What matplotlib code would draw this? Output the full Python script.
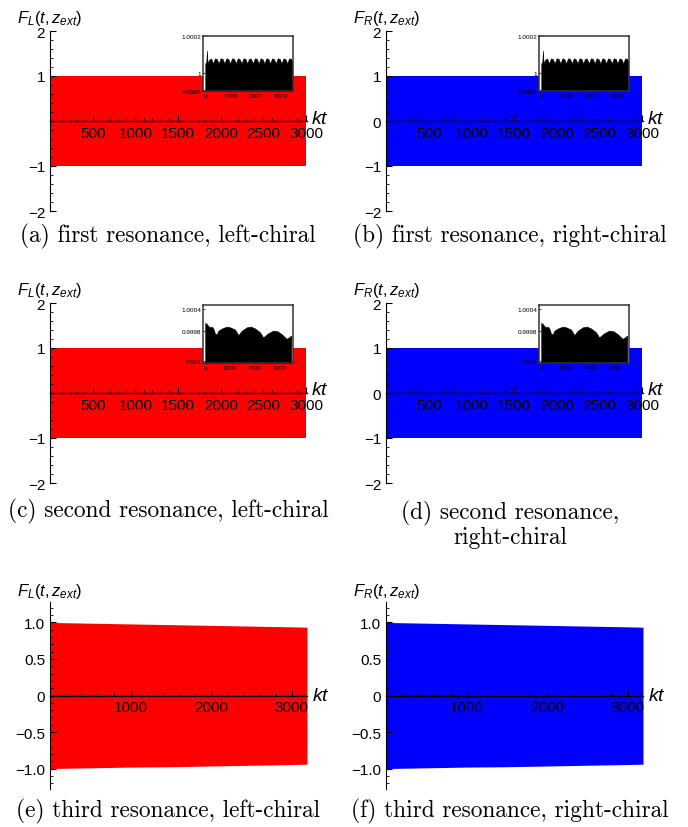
import numpy as np
import matplotlib
matplotlib.use("Agg")
import matplotlib.pyplot as plt
from matplotlib.ticker import FixedLocator, MultipleLocator

plt.rcParams["font.family"] = "Liberation Sans"
plt.rcParams["mathtext.fontset"] = "custom"
plt.rcParams["mathtext.rm"] = "Liberation Sans"
plt.rcParams["mathtext.it"] = "Liberation Sans:italic"

# ── Data ─────────────────────────────────────────────────────────
# first / second resonance: fast oscillation filling [-1, 1]
t_band = [0, 3000]
band_hi = [1.0, 1.0]
band_lo = [-1.0, -1.0]

# third resonance: slowly decaying envelope
t_third = [0, 500, 1000, 1500, 2000, 2500, 3000, 3190]
third_hi = [1.0, 0.99, 0.98, 0.97, 0.96, 0.95, 0.94, 0.935]
third_lo = [-1.0, -0.99, -0.98, -0.975, -0.965, -0.955, -0.945, -0.94]

# inset, first resonance: upper envelope near 1
ins1_t = [0, 40, 65, 90, 150, 230, 300, 380, 450, 530, 600, 680, 750, 830,
          900, 980, 1050, 1130, 1200, 1280, 1350, 1430, 1500, 1580, 1650,
          1730, 1800, 1880, 1950, 2030, 2100, 2180, 2250, 2330, 2400, 2480,
          2550, 2630, 2700, 2780, 2850, 2930, 3000, 3080, 3150, 3230, 3300,
          3380, 3430]
ins1_top = [1.00005, 1.00006, 1.00012, 1.00005, 1.00007, 1.000078, 1.00005,
            1.000078, 1.000075, 1.00005, 1.000078, 1.000076, 1.00005,
            1.000078, 1.000075, 1.00005, 1.000078, 1.000076, 1.00005,
            1.000078, 1.000075, 1.00005, 1.000078, 1.000076, 1.00005,
            1.000078, 1.000075, 1.00005, 1.000078, 1.000076, 1.00005,
            1.000078, 1.000075, 1.00005, 1.000078, 1.000076, 1.00005,
            1.000078, 1.000075, 1.00005, 1.000078, 1.000076, 1.00005,
            1.000078, 1.000075, 1.00005, 1.000078, 1.000076, 1.00006]

# inset, second resonance: upper envelope near 1
ins2_t = [0, 60, 130, 200, 270, 330, 400, 470, 530, 670, 870, 1000, 1200,
          1330, 1470, 1670, 1830, 2000, 2200, 2330, 2530, 2730, 2890, 3070,
          3270, 3370, 3460]
ins2_top = [1.00003, 1.0, 0.99994, 0.99991, 0.99993, 0.99987, 0.99973,
            0.99973, 0.99982, 0.99988, 0.99993, 0.99991, 0.99985, 0.9997,
            0.99982, 0.99991, 0.99993, 0.99988, 0.99978, 0.99964, 0.99975,
            0.99982, 0.99981, 0.99973, 0.9996, 0.99964, 0.99969]

W, H = 688, 828
fig = plt.figure(figsize=(W / 100, H / 100), dpi=100)


def add_px_axes(left, top, right, bottom):
    return fig.add_axes([left / W, 1 - bottom / H, (right - left) / W, (bottom - top) / H])


def style_main(ax, xlim, ylim, yticks, ylabels, xticks, xminor, yminor):
    ax.set_xlim(*xlim)
    ax.set_ylim(*ylim)
    ax.spines["top"].set_visible(False)
    ax.spines["right"].set_visible(False)
    ax.spines["bottom"].set_position(("data", 0))
    ax.spines["left"].set_position(("data", 0))
    ax.spines["bottom"].set_zorder(3)
    ax.spines["bottom"].set_linewidth(1.0)
    ax.yaxis.set_major_locator(FixedLocator(yticks))
    ax.set_yticklabels(ylabels)
    ax.xaxis.set_major_locator(FixedLocator(xticks))
    ax.set_xticklabels([str(v) for v in xticks])
    ax.xaxis.set_minor_locator(MultipleLocator(xminor))
    ax.yaxis.set_minor_locator(MultipleLocator(yminor))
    ax.tick_params(which="major", direction="in", length=4, width=0.8,
                   labelsize=11, pad=3.5)
    ax.tick_params(which="minor", direction="in", length=2, width=0.6)
    ax.patch.set_alpha(0)


def add_inset(left, top, right, bottom, t, top_vals, xlim, ylim, yticks, ylabels):
    ai = add_px_axes(left, top, right, bottom)
    ai.set_facecolor("white")
    ai.fill_between(t, ylim[0], top_vals, color="black", lw=0.4)
    ai.set_xlim(*xlim)
    ai.set_ylim(*ylim)
    ai.set_xticks([0, 1000, 2000, 3000])
    ai.set_xticklabels(["0", "1000", "2000", "3000"])
    ai.set_yticks(yticks)
    ai.set_yticklabels(ylabels)
    ai.tick_params(direction="in", length=1.5, width=0.5, labelsize=4.6, pad=1.5)
    for s in ai.spines.values():
        s.set_linewidth(1.1)
        s.set_color("#333333")
    ai.set_zorder(5)
    return ai


col_left = [50, 386]
col_center = [168, 510]
colors = ["red", "blue"]
ylab = [r"$F_L(t,z_{ext})$", r"$F_R(t,z_{ext})$"]

# ── Rows 1 and 2: band in [-1, 1] with inset ─────────────────────
rows = [(32, 212, "first", ins1_t, ins1_top, (-90, 3455), (0.9999, 1.0002),
         [0.9999, 1.0, 1.0002], ["0.9999", "1", "1.0002"], 37, 92),
        (304, 484, "second", ins2_t, ins2_top, (-90, 3530), (0.99895, 1.00051),
         [0.999, 0.9998, 1.0004], ["0.999", "0.9998", "1.0004"], 306, 364)]

for r, (top, bot, name, it, itop, ixl, iyl, iyt, iylab, itop_px, ibot_px) in enumerate(rows):
    for c in range(2):
        left = col_left[c]
        ax = add_px_axes(left, top, left + 257, bot)
        ax.fill_between(t_band, band_lo, band_hi, color=colors[c], lw=0)
        # left panels carry no "0" on the y axis
        if c == 0:
            yt, yl = [-2, -1, 1, 2], ["\u22122", "\u22121", "1", "2"]
        else:
            yt, yl = [-2, -1, 0, 1, 2], ["\u22122", "\u22121", "0", "1", "2"]
        style_main(ax, (0, 3010), (-2, 2), yt, yl,
                   [500, 1000, 1500, 2000, 2500, 3000], 100, 0.2)
        fig.text((left - 33) / W, 1 - (top - 14) / H, ylab[c], fontsize=12,
                 ha="left", va="center")
        y0 = (top + bot) / 2
        fig.text((left + 261) / W, 1 - (y0 - 3) / H, r"$kt$", fontsize=14,
                 ha="left", va="center")
        add_inset(left + 153, itop_px, left + 243, ibot_px, it, itop, ixl, iyl,
                  iyt, iylab)

# ── Row 3: third resonance, decaying band ───────────────────────
for c in range(2):
    left = col_left[c]
    ax = add_px_axes(left, 603, left + 257, 790)
    ax.fill_between(t_third, third_lo, third_hi, color=colors[c], lw=0)
    style_main(ax, (0, 3190), (-1.28, 1.28), [-1.0, -0.5, 0, 0.5, 1.0],
               ["\u22121.0", "\u22120.5", "0", "0.5", "1.0"],
               [1000, 2000, 3000], 200, 0.1)
    fig.text((left - 33) / W, 1 - 592 / H, ylab[c], fontsize=12,
             ha="left", va="center")
    fig.text((left + 262) / W, 1 - 697 / H, r"$kt$", fontsize=14,
             ha="left", va="center")

# ── Captions ─────────────────────────────────────────────────────
cap = dict(ha="center", va="center", fontfamily="cmr10", fontsize=16.8)
fig.text(col_center[0] / W, 1 - 236 / H, "(a) first resonance, left-chiral", **cap)
fig.text(col_center[1] / W, 1 - 236 / H, "(b) first resonance, right-chiral", **cap)
fig.text(col_center[0] / W, 1 - 511 / H, "(c) second resonance, left-chiral", **cap)
fig.text(col_center[1] / W, 1 - 513 / H, "(d) second resonance,", **cap)
fig.text(col_center[1] / W, 1 - 538 / H, "right-chiral", **cap)
fig.text(col_center[0] / W, 1 - 811 / H, "(e) third resonance, left-chiral", **cap)
fig.text(col_center[1] / W, 1 - 811 / H, "(f) third resonance, right-chiral", **cap)

fig.savefig("out.png", dpi=100)
